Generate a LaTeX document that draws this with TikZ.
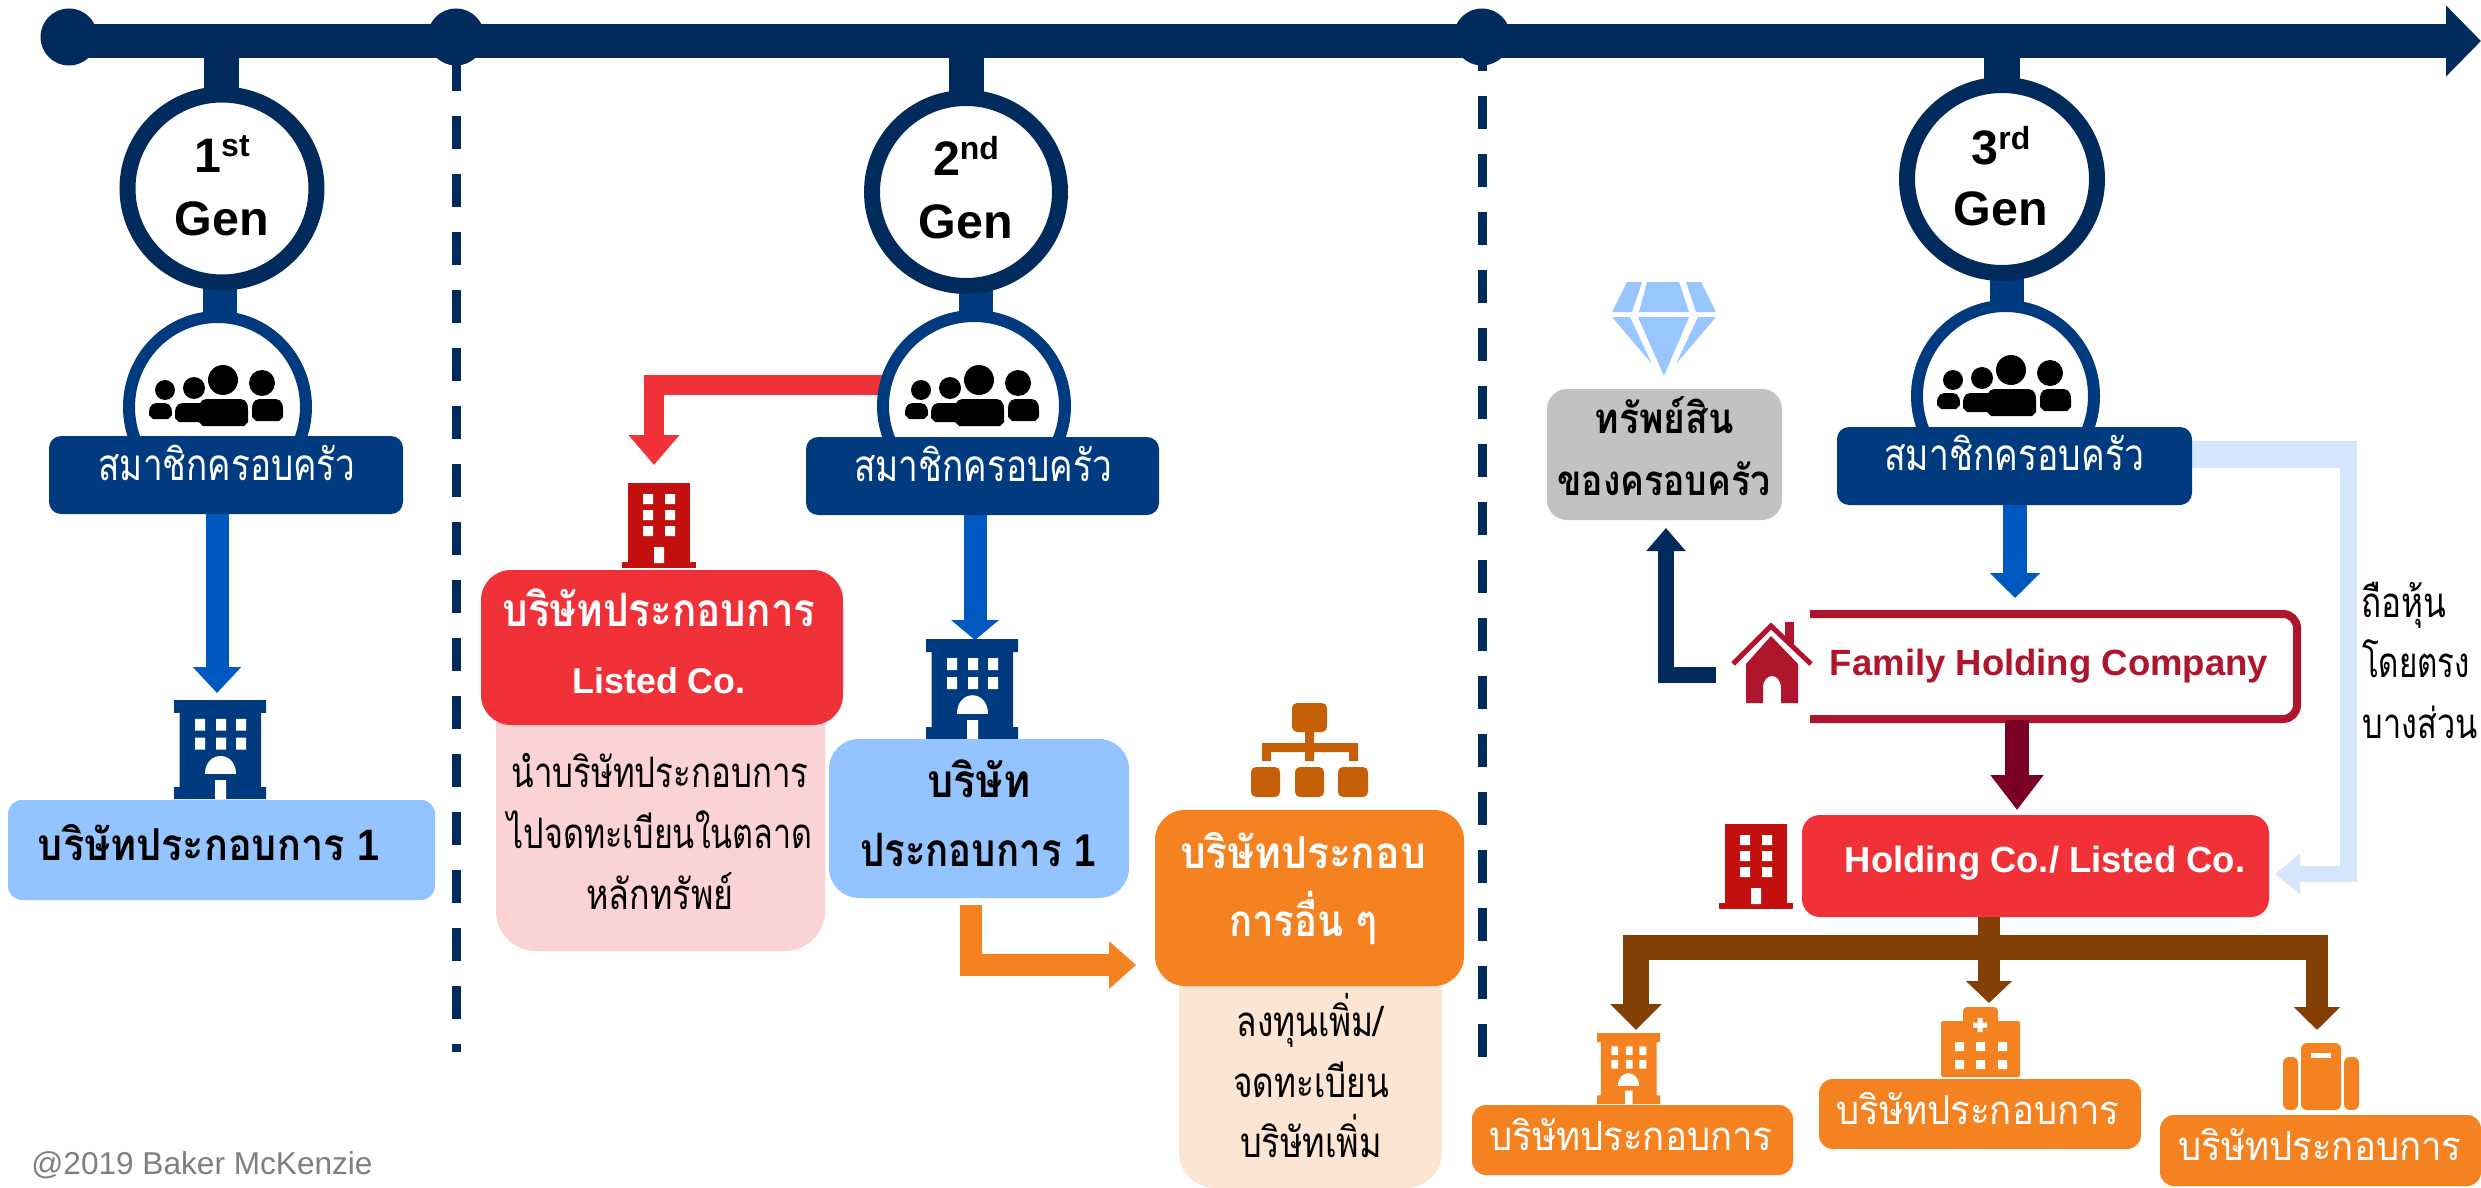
\documentclass[tikz,border=0pt]{standalone}
\usepackage{fontspec}
\usepackage{graphicx}
\setmainfont{Liberation Sans}
\newfontfamily\thaifont[Script=Thai]{Loma}
\newfontfamily\arialf{Liberation Sans}
\usetikzlibrary{arrows.meta,shapes.geometric}
\definecolor{navy}{HTML}{002B5C}
\definecolor{fblue}{HTML}{003B7F}
\definecolor{ablue}{HTML}{0059C1}
\definecolor{lblue}{HTML}{94C4FF}
\definecolor{vlblue}{HTML}{D6E6FF}
\definecolor{rbox}{HTML}{F03238}
\definecolor{dred}{HTML}{C3100F}
\definecolor{pinkb}{HTML}{FBD3D5}
\definecolor{orb}{HTML}{F58220}
\definecolor{peach}{HTML}{FDE5D3}
\definecolor{orgc}{HTML}{C55F08}
\definecolor{brownc}{HTML}{843F05}
\definecolor{hred}{HTML}{AF152D}
\definecolor{maroon}{HTML}{7A0026}
\definecolor{greyb}{HTML}{C1C2C4}
\definecolor{diam}{HTML}{99C6FF}
\definecolor{copyc}{HTML}{7F7F7F}
\tikzset{
  txt/.style={anchor=base,inner sep=0pt,outer sep=0pt},
  bxs/.style={rectangle,inner sep=0pt,outer sep=0pt,draw=none},
  px/.style={line width=#1*0.5pt},
  arrowc/.style n args={4}{draw=#1,line width=#2*0.5pt,-{Triangle[length=#3pt,width=#4pt,fill=#1]}},
  barc/.style n args={2}{draw=#1,line width=#2*0.5pt},
  ringc/.style n args={2}{ellipse,draw=#1,line width=#2*0.5pt,fill=white,inner sep=0pt,outer sep=0pt},
  dot/.style={circle,fill=navy,inner sep=0pt,outer sep=0pt,minimum size=28.5pt},
  dashl/.style={draw=navy,line width=4.5pt,dash pattern=on 16.5pt off 12.5pt}
}
% name x1 y1 x2 y2 colour radius(pt)
\newcommand\bx[7]{\pgfmathsetmacro\cxa{(#2+#4)/2}\pgfmathsetmacro\cya{(#3+#5)/2}%
  \node[bxs,fill=#6,rounded corners=#7pt,minimum width={(#4-#2)*0.5pt},minimum height={(#5-#3)*0.5pt}] (#1) at (\cxa,\cya) {};}
% name x baseline width size colour content
\newcommand\tlab[7]{\node[txt,text=#6] (#1) at (#2,#3) {\fontsize{#5}{#5}\selectfont\resizebox{\dimexpr #4pt/2\relax}{\height}{#7}};}
\newcommand\genl[6]{\node[txt] (#1) at (#2,#3) {\fontsize{24.2}{24.2}\selectfont\bfseries #5\raisebox{8pt}{\fontsize{16}{16}\selectfont #6}};
  \node[txt] (#1g) at (#2,#4) {\fontsize{24.2}{24.2}\selectfont\bfseries Gen};}
\newcommand\pbody[4]{\fill[black] ({#1+4},#4) -- (#1,{#4-4}) -- (#1,{#2+11}) .. controls (#1,#2) and ({#1+5},#2) .. ({#1+11},#2) -- ({#3-11},#2) .. controls ({#3-5},#2) and (#3,#2) .. (#3,{#2+11}) -- (#3,{#4-4}) -- ({#3-4},#4) -- cycle;}
\newcommand\people[2]{\begin{scope}[shift={(#1,#2)}]
  \fill[black] (165,390) circle[radius=10] (194,388) circle[radius=11] (223,380) circle[radius=15] (262,383) circle[radius=13];
  \pbody{149}{403}{172}{419}
  \pbody{175}{403}{210}{422}
  \pbody{199}{399}{248}{426}
  \pbody{252}{399}{283}{421}
  \end{scope}}
\newcommand\redb[2]{\begin{scope}[shift={(#1,#2)}]
  \fill[dred] (6,0) rectangle (68,80); \fill[dred] (0,79) rectangle (74,85);
  \fill[white] (21,11) rectangle (31,21) (43,11) rectangle (53,21)
               (21,27) rectangle (31,37) (43,27) rectangle (53,37)
               (21,43) rectangle (31,53) (43,43) rectangle (53,53)
               (32,64) rectangle (42,80);
  \end{scope}}
\newcommand\tower[5]{\begin{scope}[shift={(#1,#2)},xscale=#3,yscale=#4]
  \fill[#5] (0,0) rectangle (92,13) (5.5,12) rectangle (87,89) (0,88) rectangle (92,100);
  \fill[white] (21,19) rectangle (31,31) (42,19) rectangle (52,31) (62,19) rectangle (72,31)
               (21,38) rectangle (31,50) (42,38) rectangle (52,50) (62,38) rectangle (72,50)
               (41,81) rectangle (52,100);
  \fill[white] (31,75) .. controls (31,50) and (62,50) .. (62,75) -- cycle;
  \end{scope}}
\begin{document}
\begin{tikzpicture}[x=0.5pt,y=-0.5pt]
\path[fill=white,use as bounding box] (0,0) rectangle (2481,1188);
% coordinates
\coordinate (tlS) at (69,41);
\coordinate (tlE) at (2481,41);
\coordinate (sub1) at (221.5,50);
\coordinate (sub2) at (966.5,50);
\coordinate (sub3) at (2002,50);
\coordinate (redS) at (900,385);
\coordinate (redE) at (654,465);
\coordinate (arr1S) at (217,510);
\coordinate (arr1E) at (217,693);
\coordinate (arr2S) at (975,510);
\coordinate (arr2E) at (975,640);
\coordinate (arr3S) at (2015,500);
\coordinate (arr3E) at (2015,598);
\coordinate (orS) at (971,905);
\coordinate (orE) at (1136,965);
\coordinate (navS) at (1716,674.5);
\coordinate (navC) at (1666,674.5);
\coordinate (navE) at (1666,528);
\coordinate (marS) at (2017,720);
\coordinate (marE) at (2017,810);
\coordinate (lbS) at (2185,454.5);
\coordinate (lbC1) at (2356,454.5);
\coordinate (lbV1) at (2348,441);
\coordinate (lbV2) at (2348,882);
\coordinate (lbC2) at (2356,874);
\coordinate (lbE) at (2275,874);
\coordinate (brS) at (1989,913);
\coordinate (brJ) at (1989,950);
\coordinate (brM) at (1989,1003);
\coordinate (brL) at (1623,947.5);
\coordinate (brR) at (2328,947.5);
\coordinate (dlS) at (1636,947.5);
\coordinate (dlE) at (1636,1030);
\coordinate (drS) at (2317,947.5);
\coordinate (drE) at (2317,1030);
\coordinate (d1S) at (456.5,58);
\coordinate (d1E) at (456.5,1052);
\coordinate (d2S) at (1482.5,38);
\coordinate (d2E) at (1482.5,1058);
% timeline
\node[dot] (dotA) at (69,37) {};
\node[dot] (dotB) at (456,37) {};
\node[dot] (dotC) at (1482,37) {};
\draw[arrowc={navy}{34}{17.5}{34.5}] (tlS) -- (tlE);
\draw[dashl] (d1S) -- (d1E);
\draw[dashl] (d2S) -- (d2E);
% stubs gen
\draw[barc={navy}{35}] (sub1) -- (221.5,120);
\draw[barc={navy}{35}] (sub2) -- (966.5,120);
\draw[barc={navy}{36}] (sub3) -- (2002,120);
\draw[barc={fblue}{34}] (220,270) -- (220,340);
\draw[barc={fblue}{34}] (976,270) -- (976,340);
\draw[barc={fblue}{34}] (2007,260) -- (2007,330);
% red and other arrows under circles
\draw[arrowc={rbox}{20}{15}{24.5}] (redS) -| (redE);
% gen circles
\node[ringc={navy}{16},minimum width=94.5pt,minimum height=94pt] (gen1) at (222,188.5) {};
\node[ringc={navy}{16},minimum width=94pt,minimum height=94pt] (gen2) at (966,192) {};
\node[ringc={navy}{16},minimum width=95pt,minimum height=94pt] (gen3) at (2002,179) {};
\genl{gt1}{222}{173}{235}{1}{st}
\genl{gt2}{966}{176}{238}{2}{nd}
\genl{gt3}{2001}{165}{226}{3}{rd}
% family circles
\node[ringc={fblue}{12},minimum width=88.5pt,minimum height=90pt] (fam1c) at (217.5,407) {};
\node[ringc={fblue}{12},minimum width=91pt,minimum height=90pt] (fam2c) at (974,406) {};
\node[ringc={fblue}{12},minimum width=88.5pt,minimum height=90pt] (fam3c) at (2005.5,396) {};
\people{0}{0}
\people{756}{0}
\people{1788}{-10}
% arrows from family
\draw[arrowc={ablue}{23}{13}{23.5}] (arr1S) -- (arr1E);
\draw[arrowc={ablue}{23}{10}{23.5}] (arr2S) -- (arr2E);
\draw[arrowc={ablue}{24}{12.5}{24.5}] (arr3S) -- (arr3E);
\draw[barc={vlblue}{27}] (lbS) -- (lbC1);
\draw[barc={vlblue}{17}] (lbV1) -- (lbV2);
\draw[arrowc={vlblue}{16}{12.5}{19.5}] (lbC2) -- (lbE);
% family boxes
\bx{fam1}{49}{436}{403}{514}{fblue}{6}
\bx{fam2}{806}{437}{1159}{515}{fblue}{6}
\bx{fam3}{1837}{427}{2192}{505}{fblue}{6}
\tlab{fam1t}{227}{480}{257}{22}{white}{\thaifont สมาชิกครอบครัว}
\tlab{fam2t}{983}{481}{258}{22}{white}{\thaifont สมาชิกครอบครัว}
\tlab{fam3t}{2014}{470}{260}{22}{white}{\thaifont สมาชิกครอบครัว}
% first gen company
\tower{174}{700}{1}{0.99}{fblue}
\bx{co1}{8}{800}{435}{900}{lblue}{7}
\tlab{co1t}{209}{860}{342}{22}{black}{\thaifont\bfseries บริษัทประกอบการ {\arialf 1}}
% 2nd gen listed
\redb{622}{483}
\bx{pinkB}{496}{660}{825}{951}{pinkb}{20}
\bx{redB}{481}{570}{843}{725}{rbox}{15}
\tlab{redt1}{659}{626}{313}{23}{white}{\thaifont\bfseries บริษัทประกอบการ}
\node[txt,text=white] (redt2) at (659,693) {\fontsize{17.9}{17.9}\selectfont\bfseries Listed Co.};
\tlab{pink1}{660}{787}{297}{21}{black}{\thaifont นำบริษัทประกอบการ}
\tlab{pink2}{660}{848}{305}{21}{black}{\thaifont ไปจดทะเบียนในตลาด}
\tlab{pink3}{660}{909}{147}{21}{black}{\thaifont หลักทรัพย์}
\tower{926}{639}{1}{1}{fblue}
\bx{co2}{829}{739}{1129}{898}{lblue}{15}
\tlab{co2a}{979}{797}{103}{23}{black}{\thaifont\bfseries บริษัท}
\tlab{co2b}{978}{866}{236}{23}{black}{\thaifont\bfseries ประกอบการ {\arialf 1}}
\draw[arrowc={orb}{22}{13.5}{23}] (orS) |- (orE);
% org icon
\begin{scope}[orgc]
\fill[orgc,rounded corners=2.5pt] (1292,703) rectangle (1327,732);
\fill[orgc,rounded corners=2.5pt] (1251,767) rectangle (1280,797);
\fill[orgc,rounded corners=2.5pt] (1295,767) rectangle (1324,797);
\fill[orgc,rounded corners=2.5pt] (1338,767) rectangle (1368,797);
\fill[orgc] (1305,730) rectangle (1314,761) (1262,743) rectangle (1358,752) (1262,743) rectangle (1271,761) (1349,743) rectangle (1358,761);
\end{scope}
\bx{peachB}{1179}{900}{1442}{1188}{peach}{18}
\bx{orB}{1155}{810}{1464}{986}{orb}{15}
\tlab{or1}{1303}{868}{246}{22}{white}{\thaifont\bfseries บริษัทประกอบ}
\tlab{or2}{1303}{936}{148}{22}{white}{\thaifont\bfseries การอื่น ๆ}
\tlab{pe1}{1310}{1036}{147}{21}{black}{\thaifont ลงทุนเพิ่ม/}
\tlab{pe2}{1311}{1097}{156}{21}{black}{\thaifont จดทะเบียน}
\tlab{pe3}{1311}{1157}{142}{21}{black}{\thaifont บริษัทเพิ่ม}
% diamond
\fill[diam] (1627,282) -- (1642,282) -- (1632,312) -- (1612,312) -- cycle;
\fill[diam] (1647,282) -- (1679,282) -- (1689,312) -- (1639,312) -- cycle;
\fill[diam] (1686,282) -- (1701,282) -- (1716,312) -- (1696,312) -- cycle;
\fill[diam] (1612,317) -- (1630,317) -- (1652,364) -- cycle;
\fill[diam] (1638,317) -- (1689,317) -- (1664,376) -- cycle;
\fill[diam] (1698,317) -- (1716,317) -- (1676,364) -- cycle;
\bx{grey}{1547}{389}{1782}{520}{greyb}{10}
\tlab{gr1}{1664}{433}{139}{21}{black}{\thaifont\bfseries ทรัพย์สิน}
\tlab{gr2}{1664}{495}{213}{21}{black}{\thaifont\bfseries ของครอบครัว}
\draw[arrowc={navy}{16}{11.5}{19}] (navS) -- (navC) -- (navE);
% house
\fill[hred] (1785,622) rectangle (1794,650);
\draw[draw=hred,line width=2.5pt,fill=white,miter limit=10] (1733,664) -- (1771,626) -- (1811,664);
\fill[hred] (1746,703) -- (1746,664) -- (1771,636) -- (1798,664) -- (1798,703) -- (1781,703) -- (1781,688) .. controls (1781,672) and (1763,672) .. (1763,688) -- (1763,703) -- cycle;
% family holding
\draw[draw=hred,line width=4pt,rounded corners=7pt] (1810,614) -- (2297,614) -- (2297,719) -- (1810,719);
\node[txt,text=hred] (fhc) at (2049,675) {\fontsize{18.25}{18.25}\selectfont\bfseries Family Holding Company};
\draw[arrowc={maroon}{24}{17.5}{25.5}] (marS) -- (marE);
% holding
\redb{1719}{824}
\draw[barc={brownc}{22}] (brS) -- (brJ);
\draw[barc={brownc}{25}] (brL) -- (brR);
\draw[arrowc={brownc}{26}{13}{25}] (dlS) -- (dlE);
\draw[arrowc={brownc}{22}{11.5}{22.5}] (drS) -- (drE);
\draw[arrowc={brownc}{22}{11}{22.5}] (brJ) -- (brM);
\bx{hold}{1802}{815}{2269}{917}{rbox}{9}
\node[txt,text=white] (holdt) at (2045,872) {\fontsize{18.2}{18.2}\selectfont\bfseries Holding Co./ Listed Co.};
% subsidiary icons and boxes
\tower{1597}{1033}{0.685}{0.71}{orb}
\fill[orb,rounded corners=2pt] (1963,1007) rectangle (1998,1030);
\fill[orb,rounded corners=1pt] (1941,1021) rectangle (2020,1077);
\fill[white] (1977.5,1018) rectangle (1982.5,1032) (1973,1022.5) rectangle (1987,1027.5)
  (1955,1042) rectangle (1964,1051) (1976,1042) rectangle (1985,1051) (1998,1042) rectangle (2007,1051)
  (1955,1060) rectangle (1964,1069) (1976,1060) rectangle (1985,1069) (1998,1060) rectangle (2007,1069);
\fill[orb,rounded corners=3pt] (2283,1057) rectangle (2298,1110);
\fill[orb,rounded corners=3pt] (2301,1043) rectangle (2341,1110);
\fill[orb,rounded corners=3pt] (2344,1057) rectangle (2359,1110);
\fill[white] (2311,1053) rectangle (2331,1058);
\bx{sub1b}{1472}{1105}{1793}{1175}{orb}{7}
\bx{sub2b}{1819}{1079}{2141}{1149}{orb}{7}
\bx{sub3b}{2160}{1115}{2481}{1186}{orb}{7}
\tlab{sub1t}{1631}{1150}{283}{20}{white}{\thaifont บริษัทประกอบการ}
\tlab{sub2t}{1978}{1124}{283}{20}{white}{\thaifont บริษัทประกอบการ}
\tlab{sub3t}{2320}{1160}{283}{20}{white}{\thaifont บริษัทประกอบการ}
% side text
\tlab{side1}{2404}{617}{85}{21}{black}{\thaifont ถือหุ้น}
\tlab{side2}{2416}{677}{108}{21}{black}{\thaifont โดยตรง}
\tlab{side3}{2420}{738}{115}{21}{black}{\thaifont บางส่วน}
% copyright
\node[txt,text=copyc] (copy) at (202,1174) {\fontsize{15.8}{15.8}\selectfont @2019 Baker McKenzie};
\end{tikzpicture}
\end{document}
